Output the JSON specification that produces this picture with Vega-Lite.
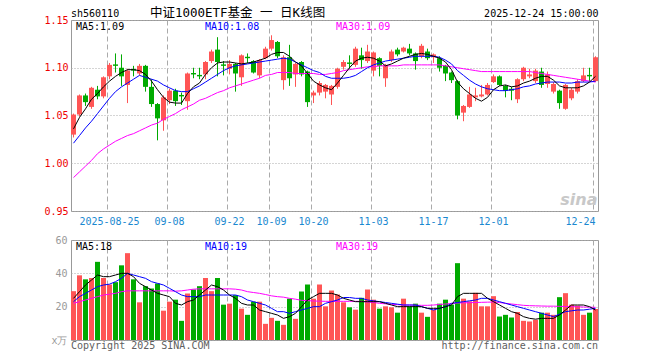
{
  "$schema": "https://vega.github.io/schema/vega-lite/v6.json",
  "padding": {"left": 43, "top": 6, "right": 5, "bottom": 5},
  "background": "white",
  "bounds": "flush",
  "spacing": 29,
  "config": {
    "view": {"stroke": "#999999", "strokeWidth": 1},
    "font": "DejaVu Sans Mono",
    "axis": {"labelFont": "DejaVu Sans Mono", "labelFontSize": 10, "ticks": false, "domain": false, "title": null, "labelOverlap": false}
  },
  "data": {"values": [
    {"d":"2025-08-15","o":1.030,"h":1.052,"l":1.027,"c":1.051,"m5":1.036,"m10":1.021,"m30":0.985,"v":29.3,"v5":25,"v10":23,"v30":22},
    {"d":"2025-08-18","o":1.051,"h":1.072,"l":1.049,"c":1.071,"m5":1.048,"m10":1.029,"m30":0.991,"v":38.8,"v5":29,"v10":26,"v30":23},
    {"d":"2025-08-19","o":1.071,"h":1.073,"l":1.060,"c":1.064,"m5":1.057,"m10":1.037,"m30":0.997,"v":36.4,"v5":33,"v10":28,"v30":24},
    {"d":"2025-08-20","o":1.059,"h":1.080,"l":1.057,"c":1.079,"m5":1.067,"m10":1.044,"m30":1.003,"v":37.2,"v5":36,"v10":30,"v30":25},
    {"d":"2025-08-21","o":1.077,"h":1.081,"l":1.067,"c":1.070,"m5":1.073,"m10":1.052,"m30":1.010,"v":46.9,"v5":39,"v10":32,"v30":26},
    {"d":"2025-08-22","o":1.070,"h":1.091,"l":1.068,"c":1.090,"m5":1.080,"m10":1.060,"m30":1.015,"v":37.2,"v5":38,"v10":33,"v30":27},
    {"d":"2025-08-25","o":1.091,"h":1.105,"l":1.088,"c":1.103,"m5":1.086,"m10":1.068,"m30":1.019,"v":33.3,"v5":38,"v10":33.5,"v30":27.5},
    {"d":"2025-08-26","o":1.1035,"h":1.115,"l":1.095,"c":1.102,"m5":1.091,"m10":1.075,"m30":1.023,"v":34.7,"v5":39,"v10":35,"v30":28},
    {"d":"2025-08-27","o":1.100,"h":1.114,"l":1.081,"c":1.091,"m5":1.095,"m10":1.080,"m30":1.026,"v":44.8,"v5":40,"v10":37,"v30":29},
    {"d":"2025-08-28","o":1.082,"h":1.099,"l":1.063,"c":1.097,"m5":1.098,"m10":1.084,"m30":1.029,"v":52.1,"v5":40,"v10":40,"v30":29.5},
    {"d":"2025-08-29","o":1.0985,"h":1.102,"l":1.091,"c":1.097,"m5":1.098,"m10":1.088,"m30":1.031,"v":36.4,"v5":38,"v10":39,"v30":29.5},
    {"d":"2025-09-01","o":1.094,"h":1.104,"l":1.092,"c":1.102,"m5":1.097,"m10":1.092,"m30":1.034,"v":22.6,"v5":34,"v10":38,"v30":29.5},
    {"d":"2025-09-02","o":1.102,"h":1.103,"l":1.075,"c":1.080,"m5":1.093,"m10":1.090,"m30":1.037,"v":32.3,"v5":32,"v10":37,"v30":29.5},
    {"d":"2025-09-03","o":1.080,"h":1.088,"l":1.059,"c":1.062,"m5":1.086,"m10":1.088,"m30":1.040,"v":30.9,"v5":30,"v10":35,"v30":29.5},
    {"d":"2025-09-04","o":1.062,"h":1.063,"l":1.024,"c":1.047,"m5":1.077,"m10":1.086,"m30":1.042,"v":33.9,"v5":28,"v10":34,"v30":29.5},
    {"d":"2025-09-05","o":1.045,"h":1.071,"l":1.034,"c":1.069,"m5":1.069,"m10":1.082,"m30":1.046,"v":17.6,"v5":27,"v10":33,"v30":29.5},
    {"d":"2025-09-08","o":1.066,"h":1.078,"l":1.062,"c":1.076,"m5":1.064,"m10":1.079,"m30":1.049,"v":23.0,"v5":26,"v10":31,"v30":29.5},
    {"d":"2025-09-09","o":1.076,"h":1.078,"l":1.060,"c":1.065,"m5":1.063,"m10":1.076,"m30":1.052,"v":24.2,"v5":22,"v10":29,"v30":29.3},
    {"d":"2025-09-10","o":1.0715,"h":1.074,"l":1.061,"c":1.070,"m5":1.063,"m10":1.075,"m30":1.056,"v":11.5,"v5":21,"v10":27,"v30":29.5},
    {"d":"2025-09-11","o":1.065,"h":1.095,"l":1.056,"c":1.094,"m5":1.073,"m10":1.075,"m30":1.059,"v":27.9,"v5":23,"v10":26,"v30":30},
    {"d":"2025-09-12","o":1.0945,"h":1.100,"l":1.089,"c":1.093,"m5":1.080,"m10":1.078,"m30":1.062,"v":30.3,"v5":24,"v10":26,"v30":30.5},
    {"d":"2025-09-15","o":1.0925,"h":1.100,"l":1.088,"c":1.091,"m5":1.084,"m10":1.081,"m30":1.066,"v":32.3,"v5":27,"v10":26,"v30":30.7},
    {"d":"2025-09-16","o":1.093,"h":1.107,"l":1.088,"c":1.106,"m5":1.093,"m10":1.085,"m30":1.068,"v":37.2,"v5":30,"v10":27,"v30":30.7},
    {"d":"2025-09-17","o":1.107,"h":1.119,"l":1.105,"c":1.117,"m5":1.100,"m10":1.089,"m30":1.071,"v":29.3,"v5":33,"v10":27,"v30":30.7},
    {"d":"2025-09-18","o":1.119,"h":1.132,"l":1.091,"c":1.106,"m5":1.105,"m10":1.093,"m30":1.074,"v":37.2,"v5":32,"v10":27,"v30":30.7},
    {"d":"2025-09-19","o":1.1035,"h":1.107,"l":1.092,"c":1.102,"m5":1.106,"m10":1.097,"m30":1.076,"v":21.2,"v5":30,"v10":27,"v30":30.7},
    {"d":"2025-09-22","o":1.099,"h":1.108,"l":1.093,"c":1.104,"m5":1.106,"m10":1.100,"m30":1.079,"v":21.8,"v5":27,"v10":27,"v30":30.7},
    {"d":"2025-09-23","o":1.104,"h":1.105,"l":1.075,"c":1.094,"m5":1.105,"m10":1.102,"m30":1.081,"v":26.9,"v5":25,"v10":27,"v30":30.5},
    {"d":"2025-09-24","o":1.090,"h":1.114,"l":1.081,"c":1.113,"m5":1.104,"m10":1.103,"m30":1.083,"v":18.8,"v5":22,"v10":26,"v30":30},
    {"d":"2025-09-25","o":1.1115,"h":1.115,"l":1.105,"c":1.110,"m5":1.105,"m10":1.104,"m30":1.085,"v":15.1,"v5":21,"v10":24,"v30":29},
    {"d":"2025-09-26","o":1.107,"h":1.108,"l":1.094,"c":1.095,"m5":1.106,"m10":1.105,"m30":1.087,"v":23.0,"v5":21,"v10":23,"v30":28.5},
    {"d":"2025-09-29","o":1.092,"h":1.109,"l":1.089,"c":1.108,"m5":1.108,"m10":1.106,"m30":1.089,"v":23.0,"v5":18,"v10":22,"v30":28},
    {"d":"2025-09-30","o":1.110,"h":1.122,"l":1.109,"c":1.120,"m5":1.110,"m10":1.107,"m30":1.092,"v":9.7,"v5":17,"v10":21,"v30":27.3},
    {"d":"2025-10-09","o":1.120,"h":1.134,"l":1.118,"c":1.129,"m5":1.114,"m10":1.108,"m30":1.093,"v":13.3,"v5":16,"v10":19,"v30":26.5},
    {"d":"2025-10-10","o":1.127,"h":1.128,"l":1.110,"c":1.112,"m5":1.116,"m10":1.109,"m30":1.095,"v":11.5,"v5":15,"v10":17,"v30":26},
    {"d":"2025-10-13","o":1.087,"h":1.113,"l":1.077,"c":1.111,"m5":1.116,"m10":1.110,"m30":1.095,"v":9.1,"v5":13,"v10":17,"v30":25.7},
    {"d":"2025-10-14","o":1.111,"h":1.124,"l":1.081,"c":1.089,"m5":1.112,"m10":1.109,"m30":1.095,"v":24.8,"v5":14,"v10":16,"v30":25},
    {"d":"2025-10-15","o":1.093,"h":1.105,"l":1.080,"c":1.104,"m5":1.106,"m10":1.106,"m30":1.094,"v":12.7,"v5":16,"v10":17,"v30":24.5},
    {"d":"2025-10-16","o":1.106,"h":1.107,"l":1.091,"c":1.093,"m5":1.102,"m10":1.103,"m30":1.094,"v":29.1,"v5":20,"v10":18,"v30":23.8},
    {"d":"2025-10-17","o":1.096,"h":1.097,"l":1.059,"c":1.064,"m5":1.094,"m10":1.100,"m30":1.094,"v":33.3,"v5":24,"v10":19,"v30":23.6},
    {"d":"2025-10-20","o":1.071,"h":1.076,"l":1.063,"c":1.074,"m5":1.086,"m10":1.097,"m30":1.094,"v":24.8,"v5":26,"v10":20,"v30":23.4},
    {"d":"2025-10-21","o":1.074,"h":1.086,"l":1.071,"c":1.084,"m5":1.082,"m10":1.095,"m30":1.093,"v":33.3,"v5":28,"v10":20,"v30":23.3},
    {"d":"2025-10-22","o":1.075,"h":1.083,"l":1.068,"c":1.082,"m5":1.079,"m10":1.091,"m30":1.093,"v":20.2,"v5":28,"v10":22,"v30":23.2},
    {"d":"2025-10-23","o":1.072,"h":1.082,"l":1.061,"c":1.081,"m5":1.077,"m10":1.089,"m30":1.094,"v":29.7,"v5":28,"v10":23,"v30":23.2},
    {"d":"2025-10-24","o":1.080,"h":1.100,"l":1.078,"c":1.099,"m5":1.084,"m10":1.089,"m30":1.095,"v":27.3,"v5":27,"v10":24,"v30":23.2},
    {"d":"2025-10-27","o":1.101,"h":1.108,"l":1.098,"c":1.106,"m5":1.092,"m10":1.089,"m30":1.097,"v":22.6,"v5":25,"v10":25.5,"v30":23.2},
    {"d":"2025-10-28","o":1.1055,"h":1.113,"l":1.099,"c":1.104,"m5":1.100,"m10":1.090,"m30":1.098,"v":19.6,"v5":24,"v10":25.5,"v30":23.2},
    {"d":"2025-10-29","o":1.103,"h":1.122,"l":1.101,"c":1.120,"m5":1.107,"m10":1.092,"m30":1.099,"v":18.2,"v5":23,"v10":25,"v30":23.2},
    {"d":"2025-10-30","o":1.113,"h":1.121,"l":1.099,"c":1.108,"m5":1.110,"m10":1.096,"m30":1.100,"v":25.3,"v5":23,"v10":25,"v30":23.2},
    {"d":"2025-10-31","o":1.107,"h":1.124,"l":1.105,"c":1.117,"m5":1.111,"m10":1.100,"m30":1.101,"v":30.3,"v5":23,"v10":24,"v30":22.8},
    {"d":"2025-11-03","o":1.097,"h":1.117,"l":1.091,"c":1.116,"m5":1.110,"m10":1.103,"m30":1.101,"v":24.2,"v5":23,"v10":23.5,"v30":22.5},
    {"d":"2025-11-04","o":1.110,"h":1.111,"l":1.091,"c":1.102,"m5":1.107,"m10":1.105,"m30":1.102,"v":18.8,"v5":23,"v10":23,"v30":22},
    {"d":"2025-11-05","o":1.089,"h":1.104,"l":1.080,"c":1.103,"m5":1.102,"m10":1.107,"m30":1.102,"v":20.2,"v5":22,"v10":22.5,"v30":21.7},
    {"d":"2025-11-06","o":1.108,"h":1.119,"l":1.106,"c":1.117,"m5":1.104,"m10":1.108,"m30":1.102,"v":19.6,"v5":21,"v10":22,"v30":21.4},
    {"d":"2025-11-07","o":1.119,"h":1.121,"l":1.112,"c":1.114,"m5":1.107,"m10":1.109,"m30":1.102,"v":16.4,"v5":20,"v10":21.5,"v30":21.2},
    {"d":"2025-11-10","o":1.117,"h":1.122,"l":1.116,"c":1.121,"m5":1.110,"m10":1.110,"m30":1.103,"v":24.8,"v5":20,"v10":21,"v30":21},
    {"d":"2025-11-11","o":1.120,"h":1.125,"l":1.113,"c":1.115,"m5":1.112,"m10":1.111,"m30":1.103,"v":20.2,"v5":20,"v10":21,"v30":21},
    {"d":"2025-11-12","o":1.115,"h":1.116,"l":1.098,"c":1.107,"m5":1.114,"m10":1.112,"m30":1.103,"v":21.8,"v5":20,"v10":21,"v30":20.9},
    {"d":"2025-11-13","o":1.112,"h":1.125,"l":1.110,"c":1.123,"m5":1.115,"m10":1.112,"m30":1.103,"v":16.4,"v5":20,"v10":20,"v30":20.8},
    {"d":"2025-11-14","o":1.117,"h":1.120,"l":1.108,"c":1.110,"m5":1.114,"m10":1.112,"m30":1.103,"v":13.9,"v5":19,"v10":19,"v30":20.8},
    {"d":"2025-11-17","o":1.111,"h":1.115,"l":1.105,"c":1.114,"m5":1.112,"m10":1.112,"m30":1.103,"v":18.2,"v5":19,"v10":18,"v30":21},
    {"d":"2025-11-18","o":1.110,"h":1.112,"l":1.096,"c":1.100,"m5":1.110,"m10":1.111,"m30":1.103,"v":21.8,"v5":19,"v10":19,"v30":21.3},
    {"d":"2025-11-19","o":1.102,"h":1.103,"l":1.086,"c":1.094,"m5":1.106,"m10":1.108,"m30":1.102,"v":24.2,"v5":20,"v10":20,"v30":21.6},
    {"d":"2025-11-20","o":1.095,"h":1.096,"l":1.084,"c":1.087,"m5":1.098,"m10":1.104,"m30":1.101,"v":21.2,"v5":21,"v10":22,"v30":21.9},
    {"d":"2025-11-21","o":1.086,"h":1.087,"l":1.046,"c":1.050,"m5":1.085,"m10":1.097,"m30":1.100,"v":46.1,"v5":26,"v10":22.5,"v30":22.2},
    {"d":"2025-11-24","o":1.053,"h":1.061,"l":1.044,"c":1.060,"m5":1.078,"m10":1.092,"m30":1.099,"v":24.8,"v5":28,"v10":23,"v30":22.3},
    {"d":"2025-11-25","o":1.059,"h":1.080,"l":1.058,"c":1.072,"m5":1.073,"m10":1.087,"m30":1.098,"v":23.2,"v5":28,"v10":23.5,"v30":22.4},
    {"d":"2025-11-26","o":1.069,"h":1.079,"l":1.065,"c":1.071,"m5":1.068,"m10":1.083,"m30":1.097,"v":28.3,"v5":28,"v10":24,"v30":22.5},
    {"d":"2025-11-27","o":1.070,"h":1.082,"l":1.069,"c":1.072,"m5":1.065,"m10":1.080,"m30":1.096,"v":20.2,"v5":28,"v10":25,"v30":22.6},
    {"d":"2025-11-28","o":1.072,"h":1.084,"l":1.071,"c":1.082,"m5":1.069,"m10":1.078,"m30":1.096,"v":20.2,"v5":25,"v10":25,"v30":22.7},
    {"d":"2025-12-01","o":1.085,"h":1.093,"l":1.084,"c":1.091,"m5":1.077,"m10":1.077,"m30":1.096,"v":26.3,"v5":23,"v10":24,"v30":22.8},
    {"d":"2025-12-02","o":1.091,"h":1.092,"l":1.081,"c":1.082,"m5":1.081,"m10":1.076,"m30":1.096,"v":14.1,"v5":21,"v10":23,"v30":22.5},
    {"d":"2025-12-03","o":1.081,"h":1.082,"l":1.069,"c":1.076,"m5":1.082,"m10":1.076,"m30":1.096,"v":15.1,"v5":19,"v10":22,"v30":22},
    {"d":"2025-12-04","o":1.078,"h":1.080,"l":1.066,"c":1.076,"m5":1.080,"m10":1.077,"m30":1.096,"v":13.5,"v5":17,"v10":21,"v30":21.6},
    {"d":"2025-12-05","o":1.067,"h":1.089,"l":1.063,"c":1.088,"m5":1.081,"m10":1.078,"m30":1.096,"v":16.8,"v5":16,"v10":20,"v30":21.2},
    {"d":"2025-12-08","o":1.088,"h":1.101,"l":1.086,"c":1.100,"m5":1.084,"m10":1.080,"m30":1.096,"v":11.5,"v5":14,"v10":19,"v30":20.8},
    {"d":"2025-12-09","o":1.091,"h":1.099,"l":1.089,"c":1.093,"m5":1.086,"m10":1.081,"m30":1.096,"v":11.1,"v5":13,"v10":18,"v30":20.6},
    {"d":"2025-12-10","o":1.086,"h":1.099,"l":1.084,"c":1.097,"m5":1.089,"m10":1.083,"m30":1.095,"v":12.1,"v5":12.5,"v10":17,"v30":20.5},
    {"d":"2025-12-11","o":1.096,"h":1.100,"l":1.079,"c":1.082,"m5":1.091,"m10":1.084,"m30":1.094,"v":16.4,"v5":13,"v10":16,"v30":20.4},
    {"d":"2025-12-12","o":1.083,"h":1.096,"l":1.079,"c":1.093,"m5":1.091,"m10":1.085,"m30":1.093,"v":16.4,"v5":13,"v10":15,"v30":20.3},
    {"d":"2025-12-15","o":1.075,"h":1.085,"l":1.073,"c":1.083,"m5":1.087,"m10":1.085,"m30":1.092,"v":15.1,"v5":13,"v10":14,"v30":20.3},
    {"d":"2025-12-16","o":1.076,"h":1.077,"l":1.057,"c":1.063,"m5":1.081,"m10":1.085,"m30":1.091,"v":25.7,"v5":15,"v10":15.5,"v30":20.2},
    {"d":"2025-12-17","o":1.057,"h":1.083,"l":1.056,"c":1.082,"m5":1.079,"m10":1.084,"m30":1.090,"v":28.1,"v5":18,"v10":17,"v30":20.1},
    {"d":"2025-12-18","o":1.068,"h":1.079,"l":1.066,"c":1.077,"m5":1.079,"m10":1.084,"m30":1.089,"v":21.2,"v5":21,"v10":17.5,"v30":20},
    {"d":"2025-12-19","o":1.075,"h":1.088,"l":1.073,"c":1.086,"m5":1.079,"m10":1.085,"m30":1.088,"v":20.6,"v5":21,"v10":18,"v30":19.9},
    {"d":"2025-12-22","o":1.086,"h":1.100,"l":1.085,"c":1.092,"m5":1.081,"m10":1.085,"m30":1.087,"v":15.1,"v5":21,"v10":18,"v30":19.8},
    {"d":"2025-12-23","o":1.0925,"h":1.100,"l":1.086,"c":1.091,"m5":1.085,"m10":1.085,"m30":1.086,"v":16.4,"v5":20,"v10":18.5,"v30":19.7},
    {"d":"2025-12-24","o":1.086,"h":1.112,"l":1.085,"c":1.111,"m5":1.091,"m10":1.086,"m30":1.085,"v":18.6,"v5":18,"v10":19,"v30":19.6}
  ]},
  "vconcat": [
    {
      "width": 527,
      "height": 191,
      "resolve": {"axis": {"y": "independent"}},
      "encoding": {
        "x": {
          "field": "d", "type": "ordinal",
          "scale": {"paddingInner": 0.16667, "paddingOuter": 0},
          "axis": {
            "values": ["2025-08-25","2025-09-08","2025-09-22","2025-10-09","2025-10-20","2025-11-03","2025-11-17","2025-12-01","2025-12-24"],
            "labelExpr": "datum.value == '2025-08-25' ? datum.value : substring(datum.value, 5)",
            "bandPosition": 0, "labelAngle": 0, "labelColor": "#1a88d0", "labelPadding": 5, "labelFlush": 8,
            "grid": true, "gridDash": [5, 3], "gridColor": "#aaaaaa"
          }
        }
      },
      "layer": [
        {
          "mark": {"type": "rule", "strokeWidth": 1},
          "encoding": {
            "y": {"field": "l", "type": "quantitative", "scale": {"domain": [0.95, 1.15], "zero": false, "nice": false},
              "axis": {"values": [0.95, 1.0, 1.05, 1.1, 1.15], "format": ".2f", "labelColor": "#ee0000", "labelPadding": 3, "labelFlush": false,
                "grid": true, "gridDash": [1, 2], "gridColor": "#aaaaaa"}},
            "y2": {"field": "h"},
            "color": {"condition": {"test": "datum.c >= datum.o", "value": "#ff5555"}, "value": "#00aa00"}
          }
        },
        {
          "mark": {"type": "bar"},
          "encoding": {
            "y": {"field": "o", "type": "quantitative", "axis": null},
            "y2": {"field": "c"},
            "color": {"condition": {"test": "datum.c >= datum.o", "value": "#ff5555"}, "value": "#00aa00"}
          }
        },
        {"mark": {"type": "line", "color": "#ff00ff", "strokeWidth": 1}, "encoding": {"y": {"field": "m30", "type": "quantitative", "axis": null}}},
        {"mark": {"type": "line", "color": "#0000ff", "strokeWidth": 1}, "encoding": {"y": {"field": "m10", "type": "quantitative", "axis": null}}},
        {"mark": {"type": "line", "color": "#000000", "strokeWidth": 1}, "encoding": {"y": {"field": "m5", "type": "quantitative", "axis": null}}},
        {
          "data": {"values": [{"t": "sh560110"}]},
          "mark": {"type": "text", "align": "left", "baseline": "alphabetic", "dx": -2.5, "dy": -3.5, "fontSize": 10, "font": "DejaVu Sans Mono", "color": "#000000"},
          "encoding": {"x": {"datum": "2025-08-15", "type": "ordinal"}, "y": {"datum": 1.15, "type": "quantitative", "axis": null}, "text": {"field": "t"}}
        },
        {
          "data": {"values": [{"t": "中证1000ETF基金 一 日K线图"}]},
          "mark": {"type": "text", "align": "center", "baseline": "alphabetic", "dx": 2, "dy": -3, "fontSize": 12.5, "font": "DejaVu Sans Mono, Noto Sans CJK SC", "color": "#000000"},
          "encoding": {"x": {"datum": "2025-09-23", "type": "ordinal"}, "y": {"datum": 1.15, "type": "quantitative", "axis": null}, "text": {"field": "t"}}
        },
        {
          "data": {"values": [{"t": "2025-12-24 15:00:00"}]},
          "mark": {"type": "text", "align": "right", "baseline": "alphabetic", "dx": 3, "dy": -3.5, "fontSize": 10, "font": "DejaVu Sans Mono", "color": "#000000"},
          "encoding": {"x": {"datum": "2025-12-24", "type": "ordinal"}, "y": {"datum": 1.15, "type": "quantitative", "axis": null}, "text": {"field": "t"}}
        },
        {
          "data": {"values": [{"t": "MA5:1.09"}]},
          "mark": {"type": "text", "align": "left", "baseline": "alphabetic", "dx": 2.5, "dy": 9.5, "fontSize": 10, "font": "DejaVu Sans Mono", "color": "#000000"},
          "encoding": {"x": {"datum": "2025-08-15", "type": "ordinal"}, "y": {"datum": 1.15, "type": "quantitative", "axis": null}, "text": {"field": "t"}}
        },
        {
          "data": {"values": [{"t": "MA10:1.08"}]},
          "mark": {"type": "text", "align": "left", "baseline": "alphabetic", "dx": -0.5, "dy": 9.5, "fontSize": 10, "font": "DejaVu Sans Mono", "color": "#0000ff"},
          "encoding": {"x": {"datum": "2025-09-16", "type": "ordinal"}, "y": {"datum": 1.15, "type": "quantitative", "axis": null}, "text": {"field": "t"}}
        },
        {
          "data": {"values": [{"t": "MA30:1.09"}]},
          "mark": {"type": "text", "align": "left", "baseline": "alphabetic", "dx": -1.5, "dy": 9.5, "fontSize": 10, "font": "DejaVu Sans Mono", "color": "#ff00ff"},
          "encoding": {"x": {"datum": "2025-10-24", "type": "ordinal"}, "y": {"datum": 1.15, "type": "quantitative", "axis": null}, "text": {"field": "t"}}
        },
        {
          "data": {"values": [{"t": "sina"}]},
          "mark": {"type": "text", "align": "right", "baseline": "alphabetic", "dx": 2, "dy": -6, "fontSize": 16, "fontStyle": "italic", "fontWeight": "bold", "font": "DejaVu Sans", "color": "#c8c8c8"},
          "encoding": {"x": {"datum": "2025-12-24", "type": "ordinal"}, "y": {"datum": 0.95, "type": "quantitative", "axis": null}, "text": {"field": "t"}}
        }
      ]
    },
    {
      "width": 527,
      "height": 100,
      "resolve": {"axis": {"y": "independent"}},
      "encoding": {
        "x": {
          "field": "d", "type": "ordinal",
          "scale": {"paddingInner": 0.16667, "paddingOuter": 0},
          "axis": {
            "values": ["2025-08-25","2025-09-08","2025-09-22","2025-10-09","2025-10-20","2025-11-03","2025-11-17","2025-12-01","2025-12-24"],
            "labels": false, "bandPosition": 0,
            "grid": true, "gridDash": [5, 3], "gridColor": "#aaaaaa"
          }
        }
      },
      "layer": [
        {
          "mark": {"type": "bar"},
          "encoding": {
            "y": {"field": "v", "type": "quantitative", "scale": {"domain": [0, 60], "nice": false},
              "axis": {"values": [0, 20, 40, 60], "labelExpr": "datum.value == 0 ? 'x万' : datum.label", "labelColor": "#999999", "labelPadding": 4, "labelFlush": false, "labelOverlap": false,
                "grid": true, "gridDash": [1, 2], "gridColor": "#aaaaaa"}},
            "color": {"condition": {"test": "datum.c >= datum.o", "value": "#ff5555"}, "value": "#00aa00"}
          }
        },
        {"mark": {"type": "line", "color": "#ff00ff", "strokeWidth": 1}, "encoding": {"y": {"field": "v30", "type": "quantitative", "axis": null}}},
        {"mark": {"type": "line", "color": "#0000ff", "strokeWidth": 1}, "encoding": {"y": {"field": "v10", "type": "quantitative", "axis": null}}},
        {"mark": {"type": "line", "color": "#000000", "strokeWidth": 1}, "encoding": {"y": {"field": "v5", "type": "quantitative", "axis": null}}},
        {
          "data": {"values": [{"t": "MA5:18"}]},
          "mark": {"type": "text", "align": "left", "baseline": "alphabetic", "dx": 2.5, "dy": 10, "fontSize": 10, "font": "DejaVu Sans Mono", "color": "#000000"},
          "encoding": {"x": {"datum": "2025-08-15", "type": "ordinal"}, "y": {"datum": 60, "type": "quantitative", "axis": null}, "text": {"field": "t"}}
        },
        {
          "data": {"values": [{"t": "MA10:19"}]},
          "mark": {"type": "text", "align": "left", "baseline": "alphabetic", "dx": -0.5, "dy": 10, "fontSize": 10, "font": "DejaVu Sans Mono", "color": "#0000ff"},
          "encoding": {"x": {"datum": "2025-09-16", "type": "ordinal"}, "y": {"datum": 60, "type": "quantitative", "axis": null}, "text": {"field": "t"}}
        },
        {
          "data": {"values": [{"t": "MA30:19"}]},
          "mark": {"type": "text", "align": "left", "baseline": "alphabetic", "dx": -1.5, "dy": 10, "fontSize": 10, "font": "DejaVu Sans Mono", "color": "#ff00ff"},
          "encoding": {"x": {"datum": "2025-10-24", "type": "ordinal"}, "y": {"datum": 60, "type": "quantitative", "axis": null}, "text": {"field": "t"}}
        },
        {
          "data": {"values": [{"t": "Copyright 2025 SINA.COM"}]},
          "mark": {"type": "text", "align": "left", "baseline": "alphabetic", "dx": -2.5, "dy": 8.5, "fontSize": 10, "font": "DejaVu Sans Mono", "color": "#606060"},
          "encoding": {"x": {"datum": "2025-08-15", "type": "ordinal"}, "y": {"datum": 0, "type": "quantitative", "axis": null}, "text": {"field": "t"}}
        },
        {
          "data": {"values": [{"t": "http://finance.sina.com.cn"}]},
          "mark": {"type": "text", "align": "right", "baseline": "alphabetic", "dx": 2.5, "dy": 8.5, "fontSize": 10, "font": "DejaVu Sans Mono", "color": "#606060"},
          "encoding": {"x": {"datum": "2025-12-24", "type": "ordinal"}, "y": {"datum": 0, "type": "quantitative", "axis": null}, "text": {"field": "t"}}
        }
      ]
    }
  ]
}
